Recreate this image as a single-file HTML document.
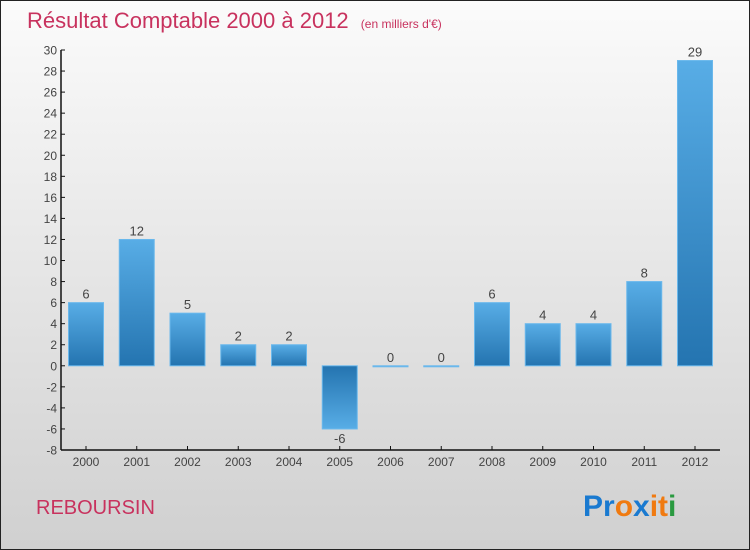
<!DOCTYPE html>
<html><head><meta charset="utf-8"><style>
body{margin:0}
svg{display:block;font-family:"Liberation Sans",sans-serif}
</style></head><body>
<svg id="c" width="750" height="550" viewBox="0 0 750 550">
<defs>
<linearGradient id="bg" x1="0" y1="0" x2="0" y2="1"><stop offset="0" stop-color="#fbfbfb"/><stop offset="1" stop-color="#d0d0d0"/></linearGradient>
<linearGradient id="gp" x1="0" y1="0" x2="0" y2="1"><stop offset="0" stop-color="#58ade6"/><stop offset="1" stop-color="#2474b0"/></linearGradient>
<linearGradient id="gn" x1="0" y1="0" x2="0" y2="1"><stop offset="0" stop-color="#2474b0"/><stop offset="1" stop-color="#58ade6"/></linearGradient>
</defs>
<rect x="0.5" y="0.5" width="749" height="549" fill="url(#bg)" stroke="#222"/>
<text x="27" y="28" font-size="22" fill="#c8325e">Résultat Comptable 2000 à 2012 <tspan font-size="12" dx="6">(en milliers d'€)</tspan></text>
<text x="36" y="514" font-size="20" fill="#c8325e">REBOURSIN</text>
<g font-size="30" font-weight="bold">
<text x="583" y="516"><tspan fill="#1a7ad0">Pr</tspan><tspan fill="#f07a10">o</tspan><tspan fill="#1a7ad0">x</tspan><tspan fill="#f07a10">it</tspan><tspan fill="#2a9a40">i</tspan></text>
</g>
<g id="axes"></g>
<g id="bars"></g>
</svg>
<script>
const years=["2000","2001","2002","2003","2004","2005","2006","2007","2008","2009","2010","2011","2012"];
const values=[6,12,5,2,2,-6,0,0,6,4,4,8,29];
const yTicks=[30,28,26,24,22,20,18,16,14,12,10,8,6,4,2,0,-2,-4,-6,-8];
const NS="http://www.w3.org/2000/svg";
const yMin=-8,yMax=30,yTop=50,yBot=450,x0=61,step=50.75,first=86,bw=35;
const y=v=>yBot-(v-yMin)/(yMax-yMin)*(yBot-yTop);
const x=i=>first+i*step;
function mk(t,a,p,txt){const e=document.createElementNS(NS,t);for(const k in a)e.setAttribute(k,a[k]);if(txt!=null)e.textContent=txt;p.appendChild(e);return e;}
const ax=document.getElementById('axes'),bg=document.getElementById('bars');
const yl=mk('line',{x1:x0,y1:yTop,x2:x0,y2:yBot,stroke:'#111','stroke-width':1.5},ax);


const xl=mk('line',{x1:x0,y1:yBot,x2:720,y2:yBot,stroke:'#111','stroke-width':1.5},ax);


yTicks.forEach(v=>{
 mk('line',{x1:x0,y1:y(v),x2:x0+4,y2:y(v),stroke:'#111'},ax);
 const t=mk('text',{x:x0-4,y:y(v)+4.5,'text-anchor':'end','font-size':12,fill:'#444'},ax,String(v));
 
 
});
years.forEach((yr,i)=>{
 mk('line',{x1:x(i),y1:yBot-4,x2:x(i),y2:yBot,stroke:'#111'},ax);
 const t=mk('text',{x:x(i),y:yBot+16,'text-anchor':'middle','font-size':12,fill:'#444'},ax,yr);
 
 
 const v=values[i];
 const y1=Math.min(y(v),y(0)),h=Math.max(Math.abs(y(v)-y(0)),1);
 const r=mk('rect',{x:x(i)-bw/2,y:y1,width:bw,height:h,fill:v<0?'url(#gn)':'url(#gp)',stroke:'#6ab8ec','stroke-width':1},bg);
 
 
 const ly=v>=0?y(v)-4:y(v)+14;
 const l=mk('text',{x:x(i),y:ly,'text-anchor':'middle','font-size':13,fill:'#444'},bg,String(v));
 
 
});
</script>
</body></html>
